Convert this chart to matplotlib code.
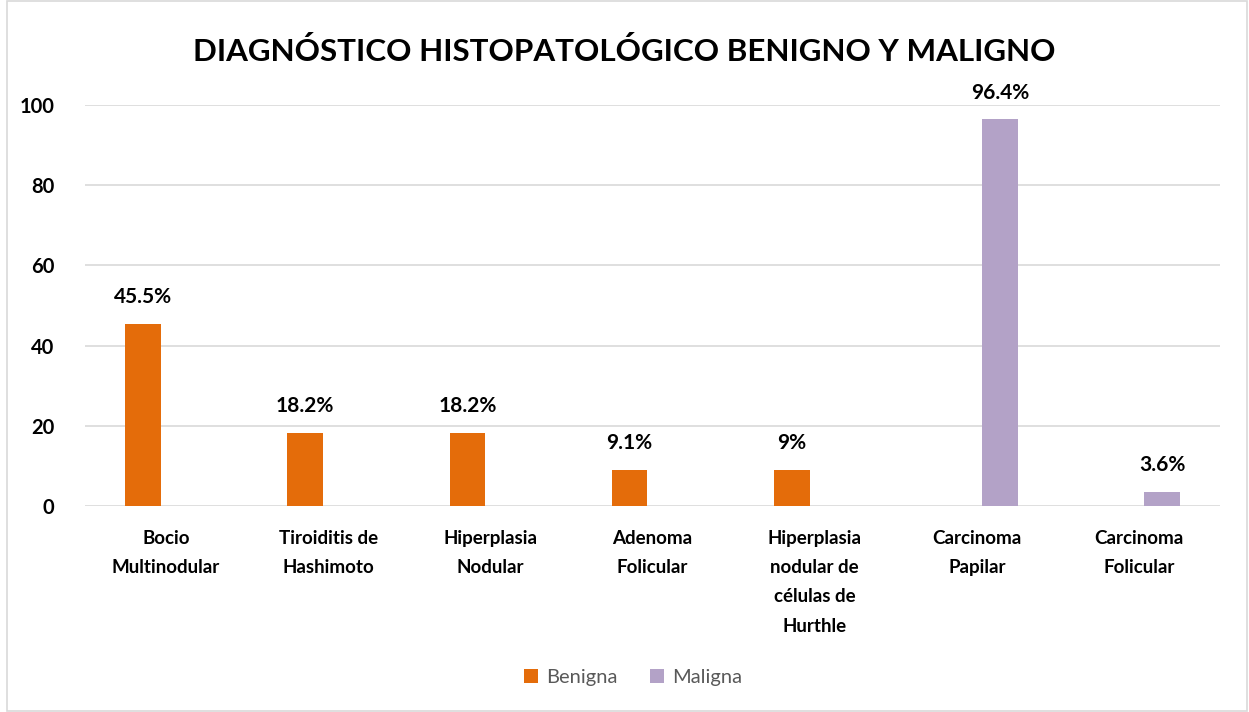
import matplotlib
matplotlib.use("Agg")
import matplotlib.pyplot as plt
from matplotlib.patches import Rectangle
import numpy as np

categories = ["Bocio\nMultinodular", "Tiroiditis de\nHashimoto", "Hiperplasia\nNodular",
              "Adenoma\nFolicular", "Hiperplasia\nnodular de\ncélulas de\nHurthle",
              "Carcinoma\nPapilar", "Carcinoma\nFolicular"]
benigna = [45.5, 18.2, 18.2, 9.1, 9.0, 0, 0]
maligna = [0, 0, 0, 0, 0, 96.4, 3.6]
benigna_labels = ["45.5%", "18.2%", "18.2%", "9.1%", "9%", None, None]
maligna_labels = [None, None, None, None, None, "96.4%", "3.6%"]
yticks = [0, 20, 40, 60, 80, 100]

FONT = "Lato"
c_ben = "#E46C0A"
c_mal = "#B3A2C7"

fig = plt.figure(figsize=(12.49, 7.12), dpi=100)
fig.patches.append(Rectangle((0.006, 0.002), 0.992, 0.996, transform=fig.transFigure,
                             fill=False, edgecolor="#D9D9D9", linewidth=1.2))
ax = fig.add_axes([0.068, 0.2893, 0.909, 0.5632])

x = np.arange(len(categories))
w = 0.22
off = 0.142
ax.bar(x - off, benigna, w, color=c_ben, label="Benigna", zorder=3)
ax.bar(x + off, maligna, w, color=c_mal, label="Maligna", zorder=3)

for i in range(len(categories)):
    if benigna_labels[i]:
        ax.annotate(benigna_labels[i], (x[i] - off, benigna[i]), xytext=(0, 12),
                    textcoords="offset points", ha="center", va="bottom",
                    fontsize=15, fontweight="bold", family=FONT)
    if maligna_labels[i]:
        ax.annotate(maligna_labels[i], (x[i] + off, maligna[i]), xytext=(0, 12),
                    textcoords="offset points", ha="center", va="bottom",
                    fontsize=15, fontweight="bold", family=FONT)

ax.set_xlim(-0.5, len(categories) - 0.5)
ax.set_ylim(0, 100)
ax.set_yticks(yticks)
ax.set_yticklabels([str(t) for t in yticks], fontsize=14.5, fontweight="bold", family=FONT)
ax.set_xticks(x)
ax.set_xticklabels(categories, fontsize=13.5, fontweight="bold", family=FONT, linespacing=1.88, va="top")
ax.tick_params(axis="both", length=0)
ax.tick_params(axis="x", pad=17)
ax.tick_params(axis="y", pad=22)
ax.grid(axis="y", color="#D9D9D9", linewidth=1.2, zorder=0)
for s in ax.spines.values():
    s.set_visible(False)

fig.text(0.5, 0.927, "DIAGNÓSTICO HISTOPATOLÓGICO BENIGNO Y MALIGNO", ha="center", va="center",
         fontsize=22.6, fontweight="bold", family=FONT)

leg = fig.legend(handles=ax.patches[:1] + ax.patches[len(categories):len(categories) + 1],
                 labels=["Benigna", "Maligna"], loc="center", bbox_to_anchor=(0.507, 0.048),
                 ncol=2, frameon=False, prop={"family": FONT, "size": 14.5},
                 handlelength=0.7, handleheight=0.7, handletextpad=0.4, columnspacing=1.6)
for t in leg.get_texts():
    t.set_color("#595959")

fig.savefig("out.png", dpi=100)
